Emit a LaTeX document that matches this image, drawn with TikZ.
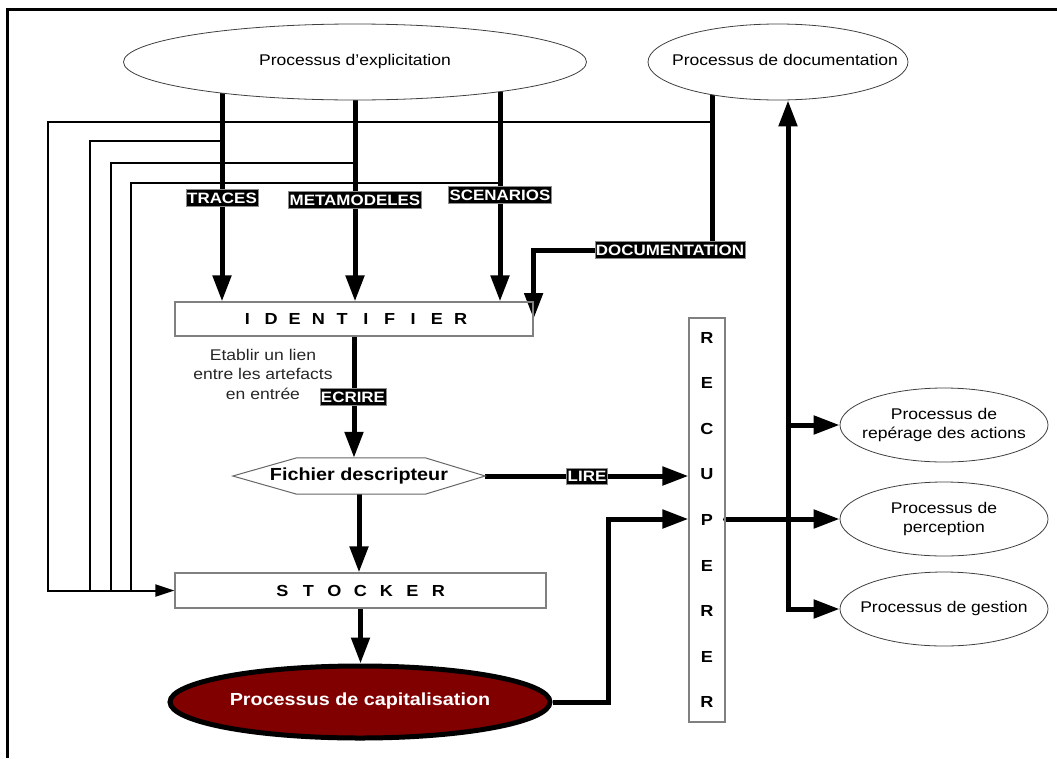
\documentclass[tikz,border=0pt]{standalone}
\usepackage{fontspec}
\setmainfont{Liberation Sans}[FakeStretch=1.13]
\usetikzlibrary{arrows.meta,shapes.geometric}
\pgfdeclarelayer{bg}
\pgfsetlayers{bg,main}
\newcommand\pbox[2]{\makebox[#1]{#2}}
\newcommand\zw[1]{\makebox[0pt]{\begin{tabular}{@{}c@{}}#1\end{tabular}}}
\definecolor{capred}{RGB}{128,0,0}
\begin{document}
\begin{tikzpicture}[x=1pt,y=-1pt,
  every node/.style={inner sep=0pt},
  proc/.style={ellipse, draw=black!75, line width=0.8pt, fill=white,
    font=\fontsize{15.5}{19}\selectfont},
  box/.style={rectangle, draw=black!50, line width=1.2pt},
  lbl/.style={fill=black, draw=black!45, line width=0.6pt, text=white,
    font=\bfseries\fontsize{15}{15}\selectfont, inner xsep=1pt, inner ysep=3pt},
  thk/.style={line width=5pt, draw=black},
  thn/.style={line width=2pt, draw=black},
  big/.style={-{Triangle[width=18pt,length=26pt]}},
  sml/.style={-{Triangle[width=12pt,length=19pt]}},
]
\useasboundingbox (0,0) rectangle (1057,758);
% frame
\draw[line width=3pt] (7,758) -- (7,9) -- (1057,9);

% nodes
\node[proc, minimum width=463pt, minimum height=76pt] (expl) at (355,62) {\zw{Processus d’explicitation}};
\node[proc, minimum width=260pt, minimum height=76pt] (doc) at (778,62) {\zw{\hspace{14pt}Processus de documentation}};

\node[box, minimum width=358pt, minimum height=34pt, font=\bfseries\fontsize{16}{16}\selectfont] (ident) at (354,319)
  {\pbox{23.7pt}{I}\pbox{23.7pt}{D}\pbox{23.7pt}{E}\pbox{23.7pt}{N}\pbox{23.7pt}{T}\pbox{23.7pt}{I}\pbox{23.7pt}{F}\pbox{23.7pt}{I}\pbox{23.7pt}{E}\pbox{23.7pt}{R}};

\node[font=\fontsize{15.5}{19.5}\selectfont, align=center, text=black!85] (etab) at (263,374)
  {Etablir un lien\\entre les artefacts\\en entrée};

\node[minimum width=252pt, minimum height=36pt, font=\bfseries\fontsize{17.5}{17.5}\selectfont] (fich) at (359,476) {Fichier descripteur};
\draw[draw=black!60, line width=1pt] (fich.west) -- ([xshift=64pt]fich.north west) -- ([xshift=-60pt]fich.north east)
  -- (fich.east) -- ([xshift=-60pt]fich.south east) -- ([xshift=64pt]fich.south west) -- cycle;

\node[box, minimum width=371pt, minimum height=35pt, font=\bfseries\fontsize{16}{16}\selectfont] (stock) at (360.5,590.5)
  {\pbox{26pt}{S}\pbox{26pt}{T}\pbox{26pt}{O}\pbox{26pt}{C}\pbox{26pt}{K}\pbox{26pt}{E}\pbox{26pt}{R}};

\node[ellipse, draw=black, line width=5pt, fill=capred, text=white, minimum width=380pt, minimum height=72pt,
  font=\bfseries\fontsize{17.5}{17.5}\selectfont] (cap) at (360,702) {\zw{Processus de capitalisation}};

\node[box, minimum width=36pt, minimum height=404pt, align=center,
  font=\bfseries\fontsize{16}{45.6}\selectfont] (rec) at (707,520) {R\\E\\C\\U\\P\\E\\R\\E\\R};

\node[proc, minimum width=208pt, minimum height=74pt] (rep) at (944,425) {\zw{Processus de\\repérage des actions}};
\node[proc, minimum width=208pt, minimum height=74pt] (perc) at (944,519) {\zw{Processus de\\perception}};
\node[proc, minimum width=208pt, minimum height=74pt] (gest) at (944,609) {\zw{Processus de gestion}};

% labels
\node[lbl] (tr) at (222,198) {TRACES};
\node[lbl] (mm) at (355,200) {METAMODELES};
\node[lbl] (sc) at (500,195) {SCENARIOS};
\node[lbl] (dl) at (670,250) {DOCUMENTATION};
\node[lbl] (ec) at (353,397) {ECRIRE};
\node[lbl] (li) at (587,476) {LIRE};

% helper coordinates
\coordinate (dc) at (712,250);
\coordinate (f1) at (48,122);
\coordinate (f2) at (90,141);
\coordinate (f3) at (111,163);
\coordinate (f4) at (131,183);
\coordinate (f5) at (608,519);
\coordinate (bus) at (788,425);

\begin{pgfonlayer}{bg}
\draw[thk,big] (expl.center -| tr) -- (ident.north -| tr);
\draw[thk,big] (expl.center -| mm) -- (ident.north -| mm);
\draw[thk,big] (expl.center -| sc) -- (ident.north -| sc);
\draw[thk,big] (doc.center -| dc) -- (dc) -- (dc -| ident.east) -- (ident.east);

\draw[thn,sml] (dc |- f1) -- (f1) -- (f1 |- stock.west) -- (stock.west);
\draw[thn] (tr |- f2) -- (f2) -- (f2 |- stock.west);
\draw[thn] (mm |- f3) -- (f3) -- (f3 |- stock.west);
\draw[thn] (sc |- f4) -- (f4) -- (f4 |- stock.west);

\draw[thk,big] (ident.south) -- (ident.south |- fich.north);
\draw[thk,big] (fich.south) -- (fich.south |- stock.north);
\draw[thk,big] (stock.south) -- (stock.south |- cap.north);

\draw[thk,big] (fich.east) -- (fich.east -| rec.west);
\draw[thk,big] (cap.east) -- (cap.east -| f5) -- (f5) -- (f5 -| rec.west);
\draw[thk,big,line cap=round] (f5 -| rec.east) -- (perc.west);
\draw[thk,{Triangle[width=18pt,length=26pt]}-{Triangle[width=18pt,length=26pt]}] (gest.west) -- (gest.west -| bus) -- (doc.south -| bus);
\draw[thk,big] (bus) -- (rep.west);
\end{pgfonlayer}
\end{tikzpicture}
\end{document}
